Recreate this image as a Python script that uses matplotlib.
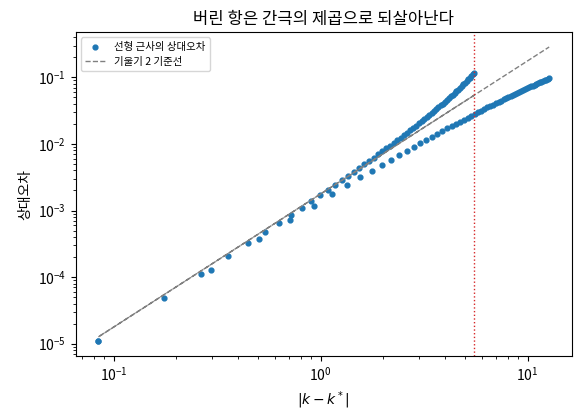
import numpy as np
import matplotlib
matplotlib.use("Agg")
import matplotlib.pyplot as plt

plt.rcParams['font.family'] = ['Noto Sans CJK KR', 'DejaVu Sans']

# |k - k*| on the side k < k* (ends at the red dotted line)
gap_left = [0.0843, 0.1749, 0.2655, 0.3561, 0.4467, 0.5373, 0.6279, 0.7185, 0.8091, 0.8997,
            0.9903, 1.0809, 1.1715, 1.2621, 1.3527, 1.4433, 1.5339, 1.6245, 1.7151, 1.8057,
            1.8963, 1.9869, 2.0775, 2.1681, 2.2587, 2.3493, 2.4399, 2.5305, 2.6211, 2.7117,
            2.8023, 2.8929, 2.9835, 3.0741, 3.1647, 3.2553, 3.3459, 3.4365, 3.5271, 3.6177,
            3.7083, 3.7989, 3.8895, 3.9801, 4.0707, 4.1613, 4.2519, 4.3425, 4.4331, 4.5237,
            4.6143, 4.7049, 4.7955, 4.8861, 4.9767, 5.0673, 5.1579, 5.2485, 5.3391, 5.4297,
            5.5203]
err_left = [1.11e-5, 4.81e-5, 1.12e-4, 2.04e-4, 3.23e-4, 4.73e-4, 6.53e-4, 8.64e-4, 1.107e-3, 1.384e-3,
            1.695e-3, 2.041e-3, 2.425e-3, 2.846e-3, 3.307e-3, 3.809e-3, 4.353e-3, 4.941e-3, 5.574e-3, 6.253e-3,
            6.982e-3, 7.761e-3, 8.593e-3, 9.478e-3, 1.042e-2, 1.142e-2, 1.249e-2, 1.361e-2, 1.480e-2, 1.606e-2,
            1.740e-2, 1.881e-2, 2.029e-2, 2.186e-2, 2.352e-2, 2.526e-2, 2.710e-2, 2.903e-2, 3.107e-2, 3.322e-2,
            3.547e-2, 3.785e-2, 4.034e-2, 4.297e-2, 4.575e-2, 4.866e-2, 5.173e-2, 5.495e-2, 5.835e-2, 6.194e-2,
            6.571e-2, 6.968e-2, 7.387e-2, 7.829e-2, 8.296e-2, 8.788e-2, 9.307e-2, 9.856e-2, 0.1044, 0.1105,
            0.1171]

# |k - k*| on the side k > k*
gap_right = [0.0843, 0.2946, 0.5049, 0.7152, 0.9255, 1.1358, 1.3461, 1.5564, 1.7667, 1.9770,
             2.1873, 2.3976, 2.6079, 2.8182, 3.0285, 3.2388, 3.4491, 3.6594, 3.8697, 4.0800,
             4.2903, 4.5006, 4.7109, 4.9212, 5.1315, 5.3418, 5.5521, 5.7624, 5.9727, 6.1830,
             6.3933, 6.6036, 6.8139, 7.0242, 7.2345, 7.4448, 7.6551, 7.8654, 8.0757, 8.2860,
             8.4963, 8.7066, 8.9169, 9.1272, 9.3375, 9.5478, 9.7581, 9.9684, 10.1787, 10.3890,
             10.5993, 10.8096, 11.0199, 11.2302, 11.4405, 11.6508, 11.8611, 12.0714, 12.2817, 12.4920,
             12.7023]
err_right = [1.085e-5, 1.292e-4, 3.702e-4, 7.252e-4, 1.186e-3, 1.746e-3, 2.398e-3, 3.136e-3, 3.955e-3, 4.850e-3,
             5.815e-3, 6.848e-3, 7.943e-3, 9.097e-3, 1.031e-2, 1.157e-2, 1.288e-2, 1.424e-2, 1.565e-2, 1.710e-2,
             1.858e-2, 2.011e-2, 2.167e-2, 2.327e-2, 2.490e-2, 2.656e-2, 2.825e-2, 2.997e-2, 3.172e-2, 3.350e-2,
             3.529e-2, 3.712e-2, 3.896e-2, 4.083e-2, 4.272e-2, 4.463e-2, 4.656e-2, 4.850e-2, 5.047e-2, 5.245e-2,
             5.445e-2, 5.646e-2, 5.849e-2, 6.054e-2, 6.260e-2, 6.467e-2, 6.676e-2, 6.885e-2, 7.097e-2, 7.309e-2,
             7.522e-2, 7.737e-2, 7.953e-2, 8.169e-2, 8.387e-2, 8.606e-2, 8.825e-2, 9.046e-2, 9.267e-2, 9.490e-2,
             9.713e-2]

slope_coef = 1.773e-3      # reference line: coef * gap^2
gap_limit = 5.52           # red dotted line

# points in k order: left side reversed, then right side
gap = np.array(gap_left[::-1] + gap_right)
err = np.array(err_left[::-1] + err_right)

fig, ax = plt.subplots(figsize=(5.8, 4.16), dpi=100)
ax.scatter(gap, err, s=12, color='tab:blue', label='선형 근사의 상대오차')
ax.plot(gap, slope_coef * gap**2, '--', color='gray', lw=1, label='기울기 2 기준선')
ax.axvline(gap_limit, color='tab:red', ls=':', lw=1)
ax.set_xscale('log')
ax.set_yscale('log')
ax.set_title('버린 항은 간극의 제곱으로 되살아난다')
ax.set_xlabel(r'$|k - k^*|$')
ax.set_ylabel('상대오차')
ax.legend(loc='upper left', fontsize=7.5)

plt.subplots_adjust(left=0.1305, right=0.9857, top=0.9224, bottom=0.1442)
plt.savefig('out.png')
